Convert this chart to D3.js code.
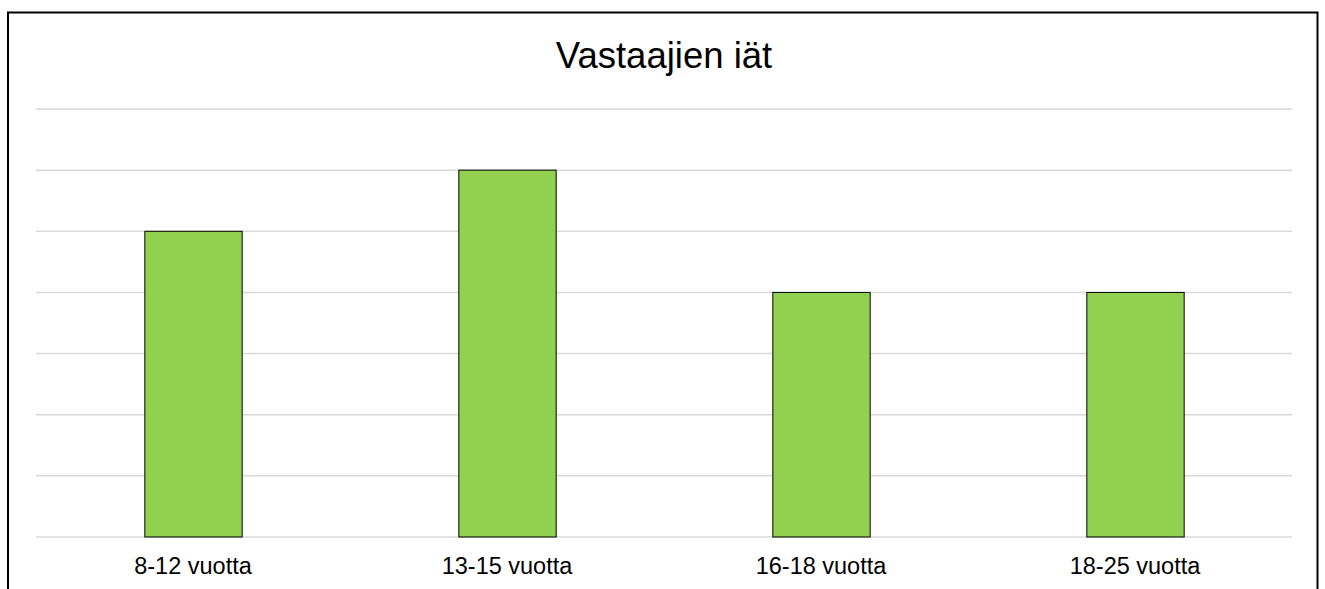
<!DOCTYPE html>
<html><head><meta charset="utf-8">
<script src="https://cdn.jsdelivr.net/npm/d3@7"></script>
<style>html,body{margin:0;padding:0;background:#fff;overflow:hidden}</style>
</head><body>
<svg id="c" width="1325" height="589"></svg>
<script>
const categories = ["8-12 vuotta", "13-15 vuotta", "16-18 vuotta", "18-25 vuotta"];
const values = [5, 6, 4, 4];
const yTicks = [0, 1, 2, 3, 4, 5, 6, 7];
const title = "Vastaajien iät";

(function () {
const svg = d3.select("#c");
const font = "'Liberation Sans', Arial, sans-serif";
const pLeft = 36, pRight = 1292, pTop = 109, pBottom = 537;

svg.append("rect").attr("x", 8).attr("y", 12.5).attr("width", 1309.5).attr("height", 600)
  .attr("fill", "#fff").attr("stroke", "#000").attr("stroke-width", 2);

const x = d3.scaleBand().domain(categories).range([pLeft, pRight]).paddingInner(0.69).paddingOuter(0.345);
const y = d3.scaleLinear().domain([0, 7]).range([pBottom, pTop]);

svg.append("g").selectAll("line").data(yTicks).join("line")
  .attr("x1", pLeft).attr("x2", pRight)
  .attr("y1", d => y(d)).attr("y2", d => y(d))
  .attr("stroke", "#d9d9d9").attr("stroke-width", 1.5);

svg.append("g").selectAll("rect").data(values).join("rect")
  .attr("x", (d, i) => x(categories[i]) + 0.5)
  .attr("y", d => y(d))
  .attr("width", x.bandwidth())
  .attr("height", d => y(0) - y(d))
  .attr("fill", "#92d050").attr("stroke", "#000").attr("stroke-width", 1);

const xAxis = svg.append("g").attr("transform", `translate(0,${pBottom})`)
  .call(d3.axisBottom(x).tickSize(0).tickPadding(0));
xAxis.select(".domain").remove();
xAxis.selectAll("text").attr("dy", null).attr("y", 37)
  .attr("font-family", font).attr("font-size", 23.5).attr("fill", "#000");

svg.append("text").attr("x", 664).attr("y", 68).attr("text-anchor", "middle")
  .attr("font-family", font).attr("font-size", 36.5).attr("fill", "#000").text(title);
})();
</script>
</body></html>
